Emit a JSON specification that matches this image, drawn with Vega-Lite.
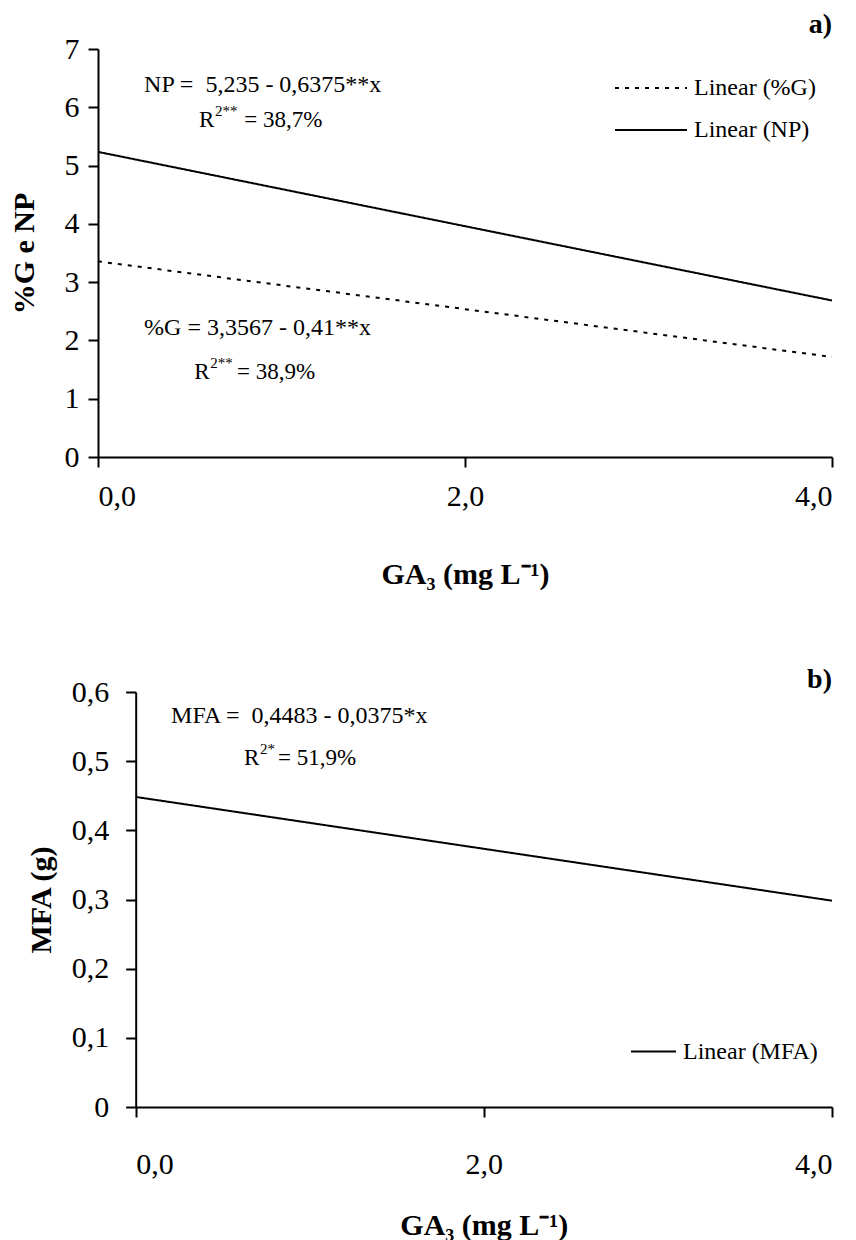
{
  "$schema": "https://vega.github.io/schema/vega-lite/v6.json",
  "background": "white",
  "padding": {"left": 9, "top": 11, "right": 5, "bottom": 5},
  "config": {
    "font": "Liberation Serif",
    "view": {"stroke": null},
    "concat": {"spacing": 76},
    "axis": {
      "grid": false,
      "domainColor": "black", "domainWidth": 2,
      "tickColor": "black", "tickWidth": 2, "tickSize": 10,
      "labelColor": "black", "labelFont": "Liberation Serif", "labelFontSize": 30,
      "titleColor": "black", "titleFont": "Liberation Serif", "titleFontSize": 30, "titleFontWeight": "bold"
    },
    "legend": {
      "title": null, "orient": "none", "padding": 0,
      "symbolType": "stroke", "symbolStrokeWidth": 2, "symbolStrokeColor": "black",
      "labelFont": "Liberation Serif", "labelFontSize": 24, "labelColor": "black", "labelOffset": 6
    },
    "text": {"font": "Liberation Serif", "color": "black"}
  },
  "resolve": {"scale": {"strokeDash": "independent"}, "legend": {"strokeDash": "independent"}},
  "vconcat": [
    {
      "width": 734,
      "height": 408,
      "layer": [
        {
          "data": {"values": [
            {"series": "Linear (%G)", "x": 0, "y": 3.3567},
            {"series": "Linear (%G)", "x": 4, "y": 1.7167},
            {"series": "Linear (NP)", "x": 0, "y": 5.235},
            {"series": "Linear (NP)", "x": 4, "y": 2.685}
          ]},
          "mark": {"type": "line", "color": "black", "strokeWidth": 2},
          "encoding": {
            "x": {"field": "x", "type": "quantitative",
              "scale": {"domain": [0, 4], "nice": false, "zero": false},
              "axis": {"values": [0, 2, 4], "labelExpr": "replace(format(datum.value, '.1f'), '.', ',')",
                "labelPadding": 14, "title": "GA₃ (mg L⁻¹)", "titlePadding": 48}},
            "y": {"field": "y", "type": "quantitative",
              "scale": {"domain": [0, 7], "nice": false},
              "axis": {"values": [0, 1, 2, 3, 4, 5, 6, 7], "labelExpr": "format(datum.value, 'd')",
                "labelPadding": 9, "title": "%G e NP", "titlePadding": 25}},
            "strokeDash": {"field": "series", "type": "nominal",
              "scale": {"domain": ["Linear (%G)", "Linear (NP)"], "range": [[4, 6], [1, 0]]},
              "legend": {"legendX": 516, "legendY": 19, "symbolSize": 5184, "clipHeight": 40, "rowPadding": 2}}
          }
        },
        {
          "data": {"values": [
            {"x": 0.251, "y": 6.38, "label": "NP =\u00a0 5,235 - 0,6375**x"},
            {"x": 0.251, "y": 2.213, "label": "%G = 3,3567 - 0,41**x"}
          ]},
          "mark": {"type": "text", "align": "left", "baseline": "middle", "fontSize": 24},
          "encoding": {
            "x": {"field": "x", "type": "quantitative", "scale": {"domain": [0, 4], "nice": false}},
            "y": {"field": "y", "type": "quantitative", "scale": {"domain": [0, 7], "nice": false}},
            "text": {"field": "label"}
          }
        },
        {
          "data": {"values": [
            {"x": 0.551, "xr": 0.797, "y": 5.78, "sup": "2**", "rest": "= 38,7%"},
            {"x": 0.524, "xr": 0.758, "y": 1.458, "sup": "2**", "rest": "= 38,9%"}
          ]},
          "layer": [
            {
              "mark": {"type": "text", "align": "left", "baseline": "middle", "fontSize": 23},
              "encoding": {
                "x": {"field": "x", "type": "quantitative", "scale": {"domain": [0, 4], "nice": false}},
                "y": {"field": "y", "type": "quantitative", "scale": {"domain": [0, 7], "nice": false}},
                "text": {"value": "R"}
              }
            },
            {
              "mark": {"type": "text", "align": "left", "baseline": "middle", "fontSize": 15, "dx": 16, "dy": -9},
              "encoding": {
                "x": {"field": "x", "type": "quantitative", "scale": {"domain": [0, 4], "nice": false}},
                "y": {"field": "y", "type": "quantitative", "scale": {"domain": [0, 7], "nice": false}},
                "text": {"field": "sup"}
              }
            },
            {
              "mark": {"type": "text", "align": "left", "baseline": "middle", "fontSize": 23},
              "encoding": {
                "x": {"field": "xr", "type": "quantitative", "scale": {"domain": [0, 4], "nice": false}},
                "y": {"field": "y", "type": "quantitative", "scale": {"domain": [0, 7], "nice": false}},
                "text": {"field": "rest"}
              }
            }
          ]
        },
        {
          "data": {"values": [{"x": 4, "y": 7.41, "label": "a)"}]},
          "mark": {"type": "text", "align": "right", "baseline": "middle", "fontSize": 28, "fontWeight": "bold"},
          "encoding": {
            "x": {"field": "x", "type": "quantitative", "scale": {"domain": [0, 4], "nice": false}},
            "y": {"field": "y", "type": "quantitative", "scale": {"domain": [0, 7], "nice": false}},
            "text": {"field": "label"}
          }
        }
      ]
    },
    {
      "width": 734,
      "height": 415,
      "layer": [
        {
          "data": {"values": [
            {"series": "Linear (MFA)", "x": 0, "y": 0.4483},
            {"series": "Linear (MFA)", "x": 4, "y": 0.2983}
          ]},
          "mark": {"type": "line", "color": "black", "strokeWidth": 2},
          "encoding": {
            "x": {"field": "x", "type": "quantitative",
              "scale": {"domain": [0, 4], "nice": false, "zero": false, "range": [37.7, 734]},
              "axis": {"values": [0, 2, 4], "labelExpr": "replace(format(datum.value, '.1f'), '.', ',')",
                "labelPadding": 32, "title": "GA₃ (mg L⁻¹)", "titlePadding": 31}},
            "y": {"field": "y", "type": "quantitative",
              "scale": {"domain": [0, 0.6], "nice": false},
              "axis": {"values": [0, 0.1, 0.2, 0.3, 0.4, 0.5, 0.6], "offset": -37.7,
                "labelExpr": "datum.value == 0 ? '0' : replace(format(datum.value, '.1f'), '.', ',')",
                "labelPadding": 17, "title": "MFA (g)", "titlePadding": 15}},
            "strokeDash": {"field": "series", "type": "nominal",
              "scale": {"domain": ["Linear (MFA)"], "range": [[1, 0]]},
              "legend": {"legendX": 532, "legendY": 336, "symbolSize": 2025}}
          }
        },
        {
          "data": {"values": [
            {"x": 0.203, "y": 0.5653, "label": "MFA =\u00a0 0,4483 - 0,0375*x"}
          ]},
          "mark": {"type": "text", "align": "left", "baseline": "middle", "fontSize": 24},
          "encoding": {
            "x": {"field": "x", "type": "quantitative", "scale": {"domain": [0, 4], "nice": false, "range": [37.7, 734]}},
            "y": {"field": "y", "type": "quantitative", "scale": {"domain": [0, 0.6], "nice": false}},
            "text": {"field": "label"}
          }
        },
        {
          "data": {"values": [
            {"x": 0.622, "xr": 0.817, "y": 0.5046, "sup": "2*", "rest": "= 51,9%"}
          ]},
          "layer": [
            {
              "mark": {"type": "text", "align": "left", "baseline": "middle", "fontSize": 23},
              "encoding": {
                "x": {"field": "x", "type": "quantitative", "scale": {"domain": [0, 4], "nice": false, "range": [37.7, 734]}},
                "y": {"field": "y", "type": "quantitative", "scale": {"domain": [0, 0.6], "nice": false}},
                "text": {"value": "R"}
              }
            },
            {
              "mark": {"type": "text", "align": "left", "baseline": "middle", "fontSize": 15, "dx": 16, "dy": -9},
              "encoding": {
                "x": {"field": "x", "type": "quantitative", "scale": {"domain": [0, 4], "nice": false, "range": [37.7, 734]}},
                "y": {"field": "y", "type": "quantitative", "scale": {"domain": [0, 0.6], "nice": false}},
                "text": {"field": "sup"}
              }
            },
            {
              "mark": {"type": "text", "align": "left", "baseline": "middle", "fontSize": 23},
              "encoding": {
                "x": {"field": "xr", "type": "quantitative", "scale": {"domain": [0, 4], "nice": false, "range": [37.7, 734]}},
                "y": {"field": "y", "type": "quantitative", "scale": {"domain": [0, 0.6], "nice": false}},
                "text": {"field": "rest"}
              }
            }
          ]
        },
        {
          "data": {"values": [{"x": 4, "y": 0.6174, "label": "b)"}]},
          "mark": {"type": "text", "align": "right", "baseline": "middle", "fontSize": 28, "fontWeight": "bold"},
          "encoding": {
            "x": {"field": "x", "type": "quantitative", "scale": {"domain": [0, 4], "nice": false, "range": [37.7, 734]}},
            "y": {"field": "y", "type": "quantitative", "scale": {"domain": [0, 0.6], "nice": false}},
            "text": {"field": "label"}
          }
        }
      ]
    }
  ]
}
